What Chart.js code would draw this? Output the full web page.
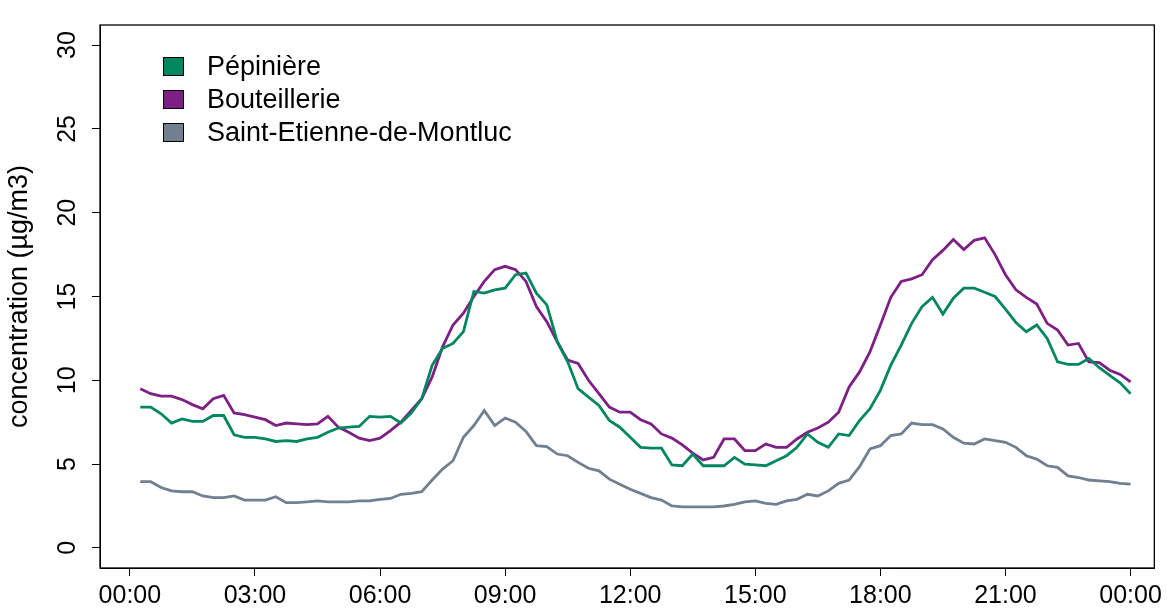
<!DOCTYPE html>
<html>
<head>
<meta charset="utf-8">
<script src="https://cdn.jsdelivr.net/npm/chart.js@4.4.1/dist/chart.umd.min.js"></script>
<style>
  body { margin: 0; background: #fff; }
  #wrap { position: relative; width: 1167px; height: 610px; }
  #legend {
    position: absolute; left: 163px; top: 50px;
    font: 27px "Liberation Sans", Arial, sans-serif; color: #000;
  }
  .row { display: flex; align-items: center; height: 33px; }
  .sw { width: 19px; height: 17px; border: 1.5px solid #000; margin-right: 23px; }
</style>
</head>
<body>
<div id="wrap">
  <canvas id="chart" width="1167" height="610"></canvas>
  <div id="legend"></div>
</div>
<script>
// ---- data (15 min steps) ----
const times = [
  "00:15","00:30","00:45","01:00","01:15","01:30","01:45","02:00","02:15","02:30","02:45","03:00",
  "03:15","03:30","03:45","04:00","04:15","04:30","04:45","05:00","05:15","05:30","05:45","06:00",
  "06:15","06:30","06:45","07:00","07:15","07:30","07:45","08:00","08:15","08:30","08:45","09:00",
  "09:15","09:30","09:45","10:00","10:15","10:30","10:45","11:00","11:15","11:30","11:45","12:00",
  "12:15","12:30","12:45","13:00","13:15","13:30","13:45","14:00","14:15","14:30","14:45","15:00",
  "15:15","15:30","15:45","16:00","16:15","16:30","16:45","17:00","17:15","17:30","17:45","18:00",
  "18:15","18:30","18:45","19:00","19:15","19:30","19:45","20:00","20:15","20:30","20:45","21:00",
  "21:15","21:30","21:45","22:00","22:15","22:30","22:45","23:00","23:15","23:30","23:45","24:00"
];

const pepiniere = [
  8.4, 8.4, 8.0, 7.45, 7.7, 7.55, 7.55, 7.9, 7.9, 6.75, 6.6, 6.6,
  6.5, 6.35, 6.4, 6.35, 6.5, 6.6, 6.9, 7.15, 7.2, 7.25, 7.85, 7.8,
  7.85, 7.45, 8.05, 8.9, 10.9, 11.9, 12.2, 12.9, 15.3, 15.2, 15.4, 15.5,
  16.3, 16.4, 15.2, 14.5, 12.3, 11.1, 9.5, 9.0, 8.5, 7.6, 7.2, 6.6,
  6.0, 5.95, 5.95, 4.95, 4.9, 5.6, 4.9, 4.9, 4.9, 5.4, 5.0, 4.95,
  4.9, 5.2, 5.5, 6.0, 6.8, 6.3, 6.0, 6.8, 6.7, 7.6, 8.3, 9.4,
  10.9, 12.1, 13.4, 14.4, 14.95, 13.95, 14.9, 15.5, 15.5, 15.25, 15.0, 14.25,
  13.45, 12.9, 13.3, 12.5, 11.1, 10.95, 10.95, 11.3, 10.75, 10.3, 9.85, 9.2
];

const bouteillerie = [
  9.5, 9.2, 9.05, 9.05, 8.85, 8.55, 8.3, 8.9, 9.1, 8.05, 7.95, 7.8,
  7.65, 7.3, 7.45, 7.4, 7.35, 7.4, 7.85, 7.2, 6.9, 6.55, 6.4, 6.55,
  7.0, 7.5, 8.2, 8.9, 10.2, 12.0, 13.3, 14.0, 15.0, 15.9, 16.6, 16.8,
  16.6, 15.9, 14.4, 13.5, 12.3, 11.2, 11.0, 10.0, 9.2, 8.4, 8.1, 8.1,
  7.65, 7.4, 6.8, 6.55, 6.15, 5.65, 5.25, 5.4, 6.5, 6.5, 5.8, 5.8,
  6.2, 6.0, 6.0, 6.5, 6.9, 7.15, 7.5, 8.1, 9.6, 10.5, 11.7, 13.3,
  14.95, 15.9, 16.05, 16.3, 17.2, 17.75, 18.4, 17.8, 18.35, 18.5, 17.5, 16.3,
  15.4, 14.95, 14.55, 13.4, 13.0, 12.1, 12.2, 11.1, 11.05, 10.6, 10.35, 9.9
];

const saintEtienne = [
  3.95, 3.95, 3.6, 3.4, 3.35, 3.35, 3.1, 3.0, 3.0, 3.1, 2.85, 2.85,
  2.85, 3.05, 2.7, 2.7, 2.75, 2.8, 2.75, 2.75, 2.75, 2.8, 2.8, 2.9,
  2.95, 3.2, 3.25, 3.35, 4.05, 4.7, 5.2, 6.6, 7.3, 8.2, 7.3, 7.75,
  7.5, 6.95, 6.1, 6.05, 5.6, 5.5, 5.1, 4.75, 4.6, 4.1, 3.8, 3.5,
  3.25, 3.0, 2.85, 2.5, 2.45, 2.45, 2.45, 2.45, 2.5, 2.6, 2.75, 2.8,
  2.65, 2.6, 2.8, 2.9, 3.2, 3.1, 3.4, 3.85, 4.05, 4.85, 5.9, 6.1,
  6.7, 6.8, 7.45, 7.35, 7.35, 7.1, 6.6, 6.25, 6.2, 6.5, 6.4, 6.3,
  6.0, 5.5, 5.3, 4.9, 4.8, 4.3, 4.2, 4.05, 4.0, 3.95, 3.85, 3.8
];

const seriesNames = ["Pépinière", "Bouteillerie", "Saint-Etienne-de-Montluc"];
const seriesColors = ["#00875f", "#7d1f84", "#708090"];
const xTickHours = [0, 3, 6, 9, 12, 15, 18, 21, 24];
const yTickValues = [0, 5, 10, 15, 20, 25, 30];

// ---- helpers ----
const toHours = (t) => {
  const [h, m] = t.split(":").map(Number);
  return h + m / 60;
};
const hourLabel = (v) => String(v % 24).padStart(2, "0") + ":00";
const pts = (vals) => vals.map((v, i) => ({ x: toHours(times[i]), y: v }));

const FONT = "'Liberation Sans', Arial, sans-serif";

// full frame around the plot, like R's box()
const boxPlugin = {
  id: "box",
  afterDraw(chart) {
    const { ctx, chartArea: a } = chart;
    ctx.save();
    ctx.strokeStyle = "#000";
    ctx.lineWidth = 1.3;
    ctx.strokeRect(a.left, a.top, a.right - a.left, a.bottom - a.top);
    ctx.restore();
  }
};

const allSeries = [pepiniere, bouteillerie, saintEtienne];

new Chart(document.getElementById("chart"), {
  type: "line",
  data: {
    datasets: allSeries.map((vals, i) => ({
      label: seriesNames[i],
      data: pts(vals),
      borderColor: seriesColors[i],
      borderWidth: 2.8,
      pointRadius: 0,
      tension: 0,
      fill: false
    }))
  },
  options: {
    responsive: false,
    animation: false,
    layout: { padding: { top: 11, right: 7, left: 0, bottom: 0 } },
    plugins: { legend: { display: false }, tooltip: { enabled: false } },
    scales: {
      x: {
        type: "linear",
        min: -0.716,
        max: 24.57,
        afterBuildTicks: (s) => { s.ticks = xTickHours.map(v => ({ value: v })); },
        afterFit: (s) => { s.height = 42; },
        grid: { drawOnChartArea: false, drawTicks: true, tickLength: 8, color: "#000", lineWidth: 1 },
        border: { display: true, color: "#000", width: 1 },
        ticks: {
          autoSkip: false, maxRotation: 0, padding: 5, color: "#000",
          font: { family: FONT, size: 25 },
          callback: (v) => hourLabel(v)
        }
      },
      y: {
        min: -1.2,
        max: 31.2,
        afterBuildTicks: (s) => { s.ticks = yTickValues.map(v => ({ value: v })); },
        afterFit: (s) => { s.width = 100; },
        grid: { drawOnChartArea: false, drawTicks: true, tickLength: 8, color: "#000", lineWidth: 1 },
        border: { display: true, color: "#000", width: 1 },
        title: {
          display: true,
          text: "concentration (µg/m3)",
          color: "#000",
          font: { family: FONT, size: 27 },
          padding: { top: 3, bottom: 0 }
        },
        ticks: {
          minRotation: 90, maxRotation: 90, crossAlign: "center", padding: 10, color: "#000",
          font: { family: FONT, size: 25 }
        }
      }
    }
  },
  plugins: [boxPlugin]
});

// legend drawn as html, inside the plot like in R
document.getElementById("legend").innerHTML = seriesNames.map((n, i) =>
  `<div class="row"><span class="sw" style="background:${seriesColors[i]}"></span>${n}</div>`
).join("");
</script>
</body>
</html>
